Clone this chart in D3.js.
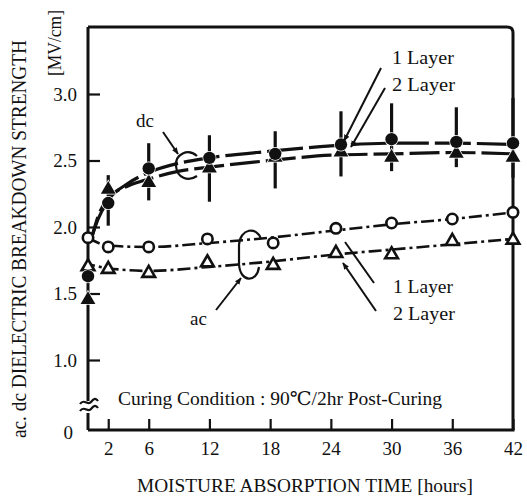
<!DOCTYPE html>
<html>
<head>
<meta charset="utf-8">
<script src="https://cdn.jsdelivr.net/npm/d3@7/dist/d3.min.js"></script>
<style>
  html, body { margin: 0; padding: 0; background: #fff; }
  svg { display: block; }
  text { font-family: "Liberation Serif", "DejaVu Serif", serif; fill: #111; }
</style>
</head>
<body>
<svg id="chart" width="527" height="498"></svg>
<script>
// ---------------- data ----------------
const hoursDc   = [0, 2, 6, 12, 18.5, 25, 30, 36.4, 42];
const dc1Layer  = [1.63, 2.18, 2.44, 2.52, 2.55, 2.62, 2.66, 2.64, 2.63];
const dc2Layer  = [1.46, 2.29, 2.34, 2.45, 2.53, 2.57, 2.53, 2.56, 2.53];
const dcErrLow  = [null, 2.01, 2.20, 2.19, 2.29, 2.38, 2.42, 2.45, 2.37];
const dcErrHigh = [null, 2.39, 2.63, 2.69, 2.72, 2.87, 2.93, 2.90, 2.97];

const hoursAc  = [0, 2, 6, 11.8, 18.3, 24.5, 30, 36, 42];
const ac1Layer = [1.92, 1.85, 1.85, 1.91, 1.88, 1.99, 2.03, 2.06, 2.11];
const ac2Layer = [1.71, 1.69, 1.66, 1.74, 1.72, 1.81, 1.80, 1.90, 1.91];

// fitted curves (as drawn)
const fitDcHours = [0.4, 1, 2, 4, 6, 9, 12, 18, 24, 30, 36, 42];
const dc1Fit     = [1.93, 2.06, 2.20, 2.33, 2.41, 2.48, 2.52, 2.57, 2.61, 2.63, 2.63, 2.62];
const dc2Fit     = [1.93, 2.08, 2.22, 2.31, 2.36, 2.42, 2.45, 2.50, 2.54, 2.55, 2.56, 2.55];
const fitAcHours = [0, 2, 6, 12, 18, 24, 30, 36, 42];
const ac1Fit     = [1.92, 1.86, 1.85, 1.88, 1.92, 1.97, 2.02, 2.06, 2.11];
const ac2Fit     = [1.72, 1.69, 1.67, 1.70, 1.74, 1.79, 1.83, 1.87, 1.91];

const xTicks = [2, 6, 12, 18, 24, 30, 36, 42];
const yTicks = [1.0, 1.5, 2.0, 2.5, 3.0];
const yBreakLabel = "0";

const xTitle = "MOISTURE ABSORPTION TIME [hours]";
const yTitle = "ac. dc DIELECTRIC BREAKDOWN STRENGTH";
const yUnit = "[MV/cm]";
const noteText = "Curing Condition : 90\u2103/2hr Post-Curing";

// ---------------- scales ----------------
const svg = d3.select("#chart");
const x = d3.scaleLinear().domain([0, 42]).range([88, 513]);
const y = d3.scaleLinear().domain([1.0, 3.0]).range([360, 94]);
const pL = 88, pR = 513, pT = 27, pB = 430;

const ink = "#111";

// ---------------- frame ----------------
const frame = svg.append("g").attr("fill", "none").attr("stroke", ink).attr("stroke-width", 3);
frame.append("path").attr("d",
  `M${pL},${pT} L${pR - 6},${pT} Q${pR},${pT} ${pR},${pT + 6} L${pR},${pB}`);
frame.append("path").attr("d", `M${pL},${pB} L${pR + 1.5},${pB}`);
frame.append("path").attr("d", `M${pL},${pT} L${pL},${401}`);
frame.append("path").attr("d", `M${pL},${413} L${pL},${pB}`);
const brk = svg.append("g").attr("fill", "none").attr("stroke", ink).attr("stroke-width", 2.2);
brk.append("path").attr("d", `M${pL - 8},${404} C${pL - 4},${398} ${pL},${406} ${pL + 3},${402} S${pL + 8},${398} ${pL + 10},${401}`);
brk.append("path").attr("d", `M${pL - 8},${411} C${pL - 4},${405} ${pL},${413} ${pL + 3},${409} S${pL + 8},${405} ${pL + 10},${408}`);

// ---------------- axes ----------------
const yAxis = d3.axisLeft(y).tickValues(yTicks).tickFormat(d3.format(".1f"))
  .tickSizeInner(-12).tickSizeOuter(0).tickPadding(11);
const gy = svg.append("g").attr("transform", `translate(${pL},0)`).call(yAxis);
gy.select(".domain").remove();
gy.selectAll(".tick line").attr("stroke", ink).attr("stroke-width", 2.2);
gy.selectAll(".tick text").style("font-size", "19px").attr("fill", ink)
  .style("font-family", '"Liberation Serif", serif');

svg.append("text").attr("x", 73).attr("y", pB + 3).attr("dy", "0.32em")
  .attr("text-anchor", "end").style("font-size", "19px").text(yBreakLabel);

const xAxis = d3.axisBottom(x).tickValues(xTicks).tickFormat(d3.format("d"))
  .tickSizeInner(-11).tickSizeOuter(0).tickPadding(12);
const gx = svg.append("g").attr("transform", `translate(0,${pB})`).call(xAxis);
gx.select(".domain").remove();
gx.selectAll(".tick line").attr("stroke", ink).attr("stroke-width", 2.2);
gx.selectAll(".tick text").style("font-size", "19px").attr("fill", ink)
  .style("font-family", '"Liberation Serif", serif');

// titles
svg.append("text").attr("x", 305).attr("y", 492).attr("text-anchor", "middle")
  .attr("textLength", 336).attr("lengthAdjust", "spacingAndGlyphs")
  .style("font-size", "19px").text(xTitle);
svg.append("text").attr("transform", "translate(26,239) rotate(-90)").attr("text-anchor", "middle")
  .attr("textLength", 398).attr("lengthAdjust", "spacingAndGlyphs")
  .style("font-size", "20px").text(yTitle);
svg.append("text").attr("transform", "translate(61,43) rotate(-90)").attr("text-anchor", "middle")
  .attr("textLength", 66).attr("lengthAdjust", "spacingAndGlyphs")
  .style("font-size", "18px").text(yUnit);

// ---------------- curves ----------------
const mk = (xs, ys) => xs.map((h, i) => [h, ys[i]]);
const line = d3.line().x(d => x(d[0])).y(d => y(d[1])).curve(d3.curveMonotoneX);
const curves = svg.append("g").attr("fill", "none").attr("stroke", ink);
curves.append("path").attr("d", line(mk(fitDcHours, dc1Fit))).attr("stroke-width", 3.2)
  .attr("stroke-dasharray", "36,6");
curves.append("path").attr("d", line(mk(fitDcHours, dc2Fit))).attr("stroke-width", 3.2)
  .attr("stroke-dasharray", "30,6").attr("stroke-dashoffset", 10);
curves.append("path").attr("d", line(mk(fitAcHours, ac1Fit))).attr("stroke-width", 2.6)
  .attr("stroke-dasharray", "13,4,3,4");
curves.append("path").attr("d", line(mk(fitAcHours, ac2Fit))).attr("stroke-width", 2.6)
  .attr("stroke-dasharray", "13,4,3,4").attr("stroke-dashoffset", 6);

// ---------------- error bars ----------------
const eb = svg.append("g").attr("stroke", ink).attr("stroke-width", 3.2);
hoursDc.forEach((h, i) => {
  if (dcErrLow[i] == null) return;
  eb.append("line").attr("x1", x(h)).attr("x2", x(h))
    .attr("y1", y(dcErrHigh[i])).attr("y2", y(dcErrLow[i]));
});

// ---------------- markers ----------------
const tri = d3.symbol().type(d3.symbolTriangle);
const mkG = svg.append("g");
hoursAc.forEach((h, i) => {
  mkG.append("path").attr("d", tri.size(70)()).attr("transform", `translate(${x(h)},${y(ac2Layer[i]) + 1})`)
    .attr("fill", "#fff").attr("stroke", ink).attr("stroke-width", 2.6);
});
hoursAc.forEach((h, i) => {
  mkG.append("circle").attr("cx", x(h)).attr("cy", y(ac1Layer[i])).attr("r", 5.2)
    .attr("fill", "#fff").attr("stroke", ink).attr("stroke-width", 2.6);
});
hoursDc.forEach((h, i) => {
  mkG.append("path").attr("d", tri.size(95)()).attr("transform", `translate(${x(h)},${y(dc2Layer[i]) + 1})`)
    .attr("fill", ink).attr("stroke", "#fff").attr("stroke-width", 1.5).attr("paint-order", "stroke");
});
hoursDc.forEach((h, i) => {
  mkG.append("circle").attr("cx", x(h)).attr("cy", y(dc1Layer[i])).attr("r", 6.2)
    .attr("fill", ink).attr("stroke", "#fff").attr("stroke-width", 1.5).attr("paint-order", "stroke");
});

// ---------------- annotations ----------------
const defs = svg.append("defs");
defs.append("marker").attr("id", "ah").attr("viewBox", "0 0 10 10").attr("refX", 9).attr("refY", 5)
  .attr("markerWidth", 7).attr("markerHeight", 7).attr("orient", "auto-start-reverse")
  .attr("markerUnits", "userSpaceOnUse")
  .append("path").attr("d", "M0,1 L10,5 L0,9 Z").attr("fill", ink);

const ann = svg.append("g").attr("stroke", ink).attr("fill", "none").attr("stroke-width", 2);
ann.append("line").attr("x1", 381).attr("y1", 68).attr("x2", 344).attr("y2", 141).attr("marker-end", "url(#ah)");
ann.append("line").attr("x1", 385).attr("y1", 88).attr("x2", 351).attr("y2", 147).attr("marker-end", "url(#ah)");
svg.append("text").attr("x", 392).attr("y", 64).attr("textLength", 62).attr("lengthAdjust", "spacingAndGlyphs")
  .style("font-size", "19px").text("1 Layer");
svg.append("text").attr("x", 392).attr("y", 91).attr("textLength", 63).attr("lengthAdjust", "spacingAndGlyphs")
  .style("font-size", "19px").text("2 Layer");

ann.append("line").attr("x1", 374).attr("y1", 283).attr("x2", 345).attr("y2", 242);
ann.append("line").attr("x1", 376).attr("y1", 311).attr("x2", 343).attr("y2", 263).attr("marker-end", "url(#ah)");
svg.append("text").attr("x", 393).attr("y", 293).attr("textLength", 60).attr("lengthAdjust", "spacingAndGlyphs")
  .style("font-size", "19px").text("1 Layer");
svg.append("text").attr("x", 393).attr("y", 320).attr("textLength", 62).attr("lengthAdjust", "spacingAndGlyphs")
  .style("font-size", "19px").text("2 Layer");

svg.append("text").attr("x", 136).attr("y", 127).style("font-size", "19px").text("dc");
ann.append("line").attr("x1", 163).attr("y1", 132).attr("x2", 178).attr("y2", 154).attr("marker-end", "url(#ah)");
ann.append("path").attr("d", "M197,156 C188,148 175,154 176,166 C177,178 188,182 197,176").attr("stroke-width", 2.2);

svg.append("text").attr("x", 190).attr("y", 325).style("font-size", "19px").text("ac");
ann.append("line").attr("x1", 216).attr("y1", 310).attr("x2", 241).attr("y2", 278).attr("marker-end", "url(#ah)");
ann.append("path").attr("d", "M261,239 C257,226 240,228 239,245 L239,264 C240,283 257,283 259,267").attr("stroke-width", 2.2);

svg.append("text").attr("x", 118).attr("y", 405).attr("textLength", 324).attr("lengthAdjust", "spacingAndGlyphs")
  .style("font-size", "19px").text(noteText);
</script>
</body>
</html>
